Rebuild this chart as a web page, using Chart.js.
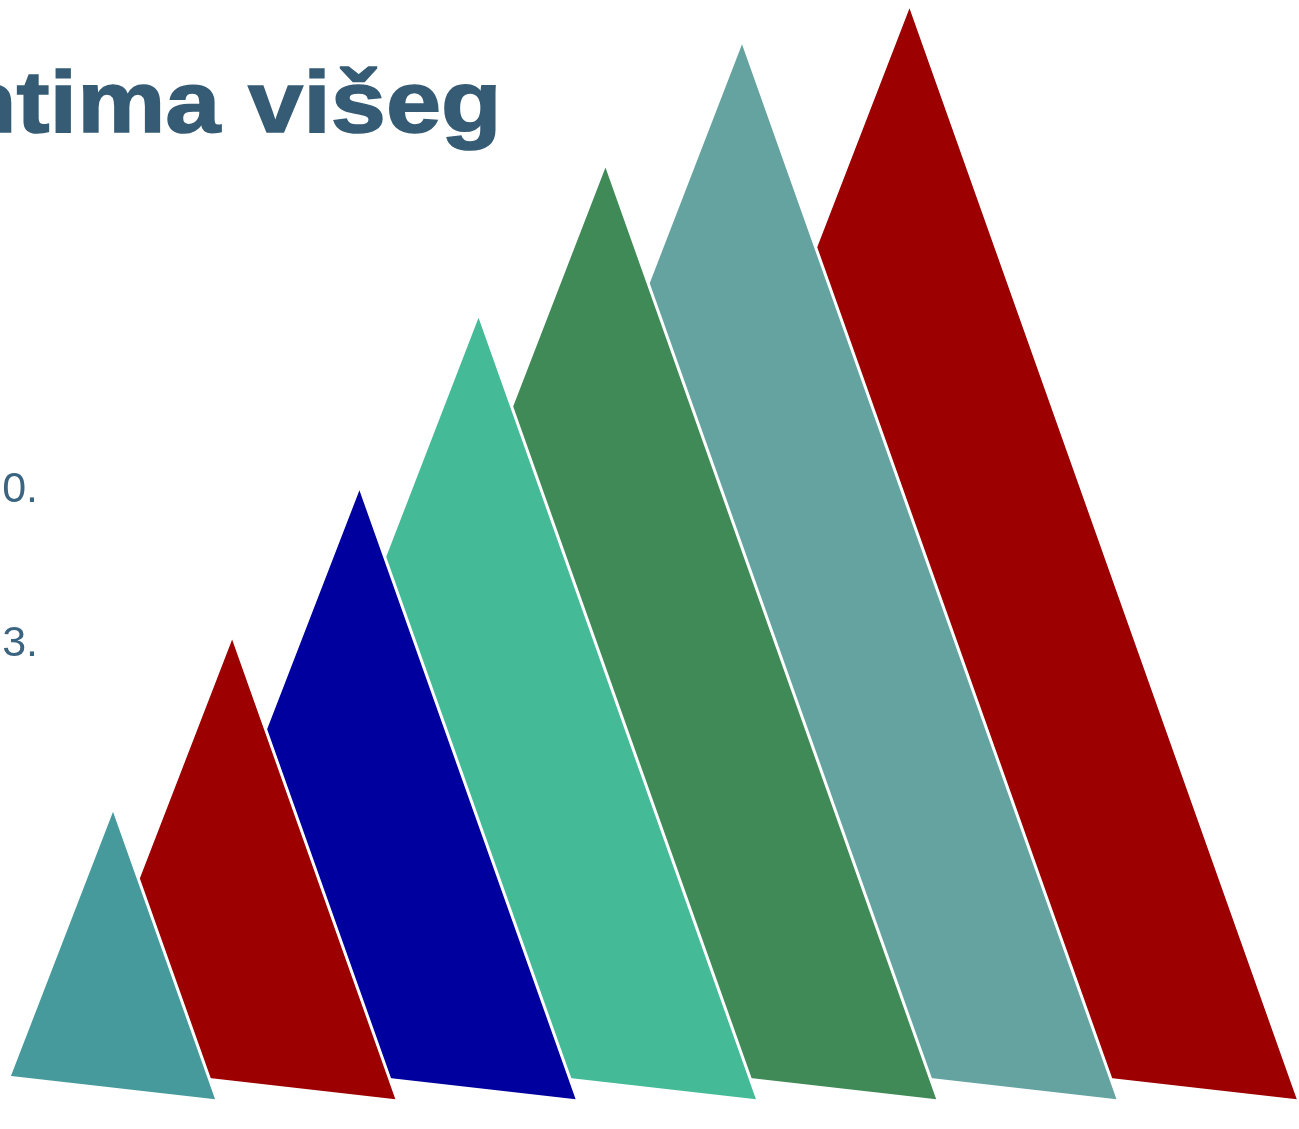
<!DOCTYPE html>
<html lang="hr">
<head>
    <meta charset="UTF-8">
    <title>Trokutasti stupci</title>
    <script src="https://cdn.jsdelivr.net/npm/chart.js"></script>
    <style>
        html, body { margin: 0; padding: 0; background: #fff; overflow: hidden; }
        #wrap { position: relative; width: 1299px; height: 1129px; }
    </style>
</head>
<body>
    <div id="wrap"><canvas id="chart"></canvas></div>

    <script>
        // podaci s grafa
        const categories = ['1', '2', '3', '4', '5', '6', '7'];
        const values = [29.3, 46.5, 61.4, 78.6, 93.6, 105.9, 109.5];
        const barColors = ['#469a9c', '#9c0000', '#00009f', '#44ba96', '#3f8a56', '#64a3a0', '#9c0000'];
        const tickValues = [45.6, 61.0];
        const tickLabels = ['3.', '0.'];
        const titleText = 'ntima višeg';

        // crta svaki stupac kao nagnuti trokut (prvi je ispred ostalih)
        const triangleBars = {
            id: 'triangleBars',
            beforeDatasetsDraw(chart) {
                const ctx = chart.ctx;
                const bars = chart.getDatasetMeta(0).data;
                ctx.save();
                for (let i = bars.length - 1; i >= 0; i--) {
                    const { x, y, base, width } = bars[i].getProps(['x', 'y', 'base', 'width'], true);
                    const h = base - y;
                    const rx = x + width / 2;
                    ctx.beginPath();
                    ctx.moveTo(rx - 0.355 * h, y);
                    ctx.lineTo(rx, base);
                    ctx.lineTo(rx - 0.71 * h, y + 0.919 * h);
                    ctx.closePath();
                    ctx.fillStyle = barColors[i];
                    ctx.fill();
                    ctx.lineWidth = 3;
                    ctx.strokeStyle = '#ffffff';
                    ctx.stroke();
                }
                ctx.restore();
                return false;
            }
        };

        // naslov (odrezan lijevo kao na slici)
        const titlePlugin = {
            id: 'titlePlugin',
            afterDraw(chart) {
                const ctx = chart.ctx;
                ctx.save();
                ctx.fillStyle = '#365b74';
                ctx.strokeStyle = '#365b74';
                ctx.lineWidth = 1.5;
                ctx.font = 'bold 87px "Liberation Sans", Arial, sans-serif';
                ctx.textBaseline = 'alphabetic';
                ctx.translate(-44, 132);
                ctx.scale(1.14, 1);
                ctx.fillText(titleText, 0, 0);
                ctx.strokeText(titleText, 0, 0);
                ctx.restore();
            }
        };

        new Chart(document.getElementById('chart'), {
            type: 'bar',
            data: {
                labels: categories,
                datasets: [{
                    data: values,
                    backgroundColor: barColors,
                    barPercentage: 1,
                    categoryPercentage: 1
                }]
            },
            options: {
                responsive: true,
                maintainAspectRatio: false,
                animation: false,
                layout: { padding: { top: 0, left: 0, right: 0, bottom: 28 } },
                plugins: {
                    legend: { display: false },
                    title: { display: false },
                    tooltip: { enabled: false }
                },
                scales: {
                    x: { display: false },
                    y: {
                        min: 0,
                        max: 109.9,
                        grid: { display: false },
                        border: { display: false },
                        afterBuildTicks: (scale) => {
                            scale.ticks = tickValues.map(v => ({ value: v }));
                        },
                        afterFit: (scale) => {
                            scale.width = 37;
                            scale.paddingTop = 0;
                            scale.paddingBottom = 0;
                        },
                        ticks: {
                            autoSkip: false,
                            padding: -9,
                            color: '#3a6480',
                            font: { family: '"Liberation Sans", Arial, sans-serif', size: 43 },
                            callback: (v, i) => tickLabels[i]
                        }
                    }
                }
            },
            plugins: [triangleBars, titlePlugin]
        });
    </script>
</body>
</html>
